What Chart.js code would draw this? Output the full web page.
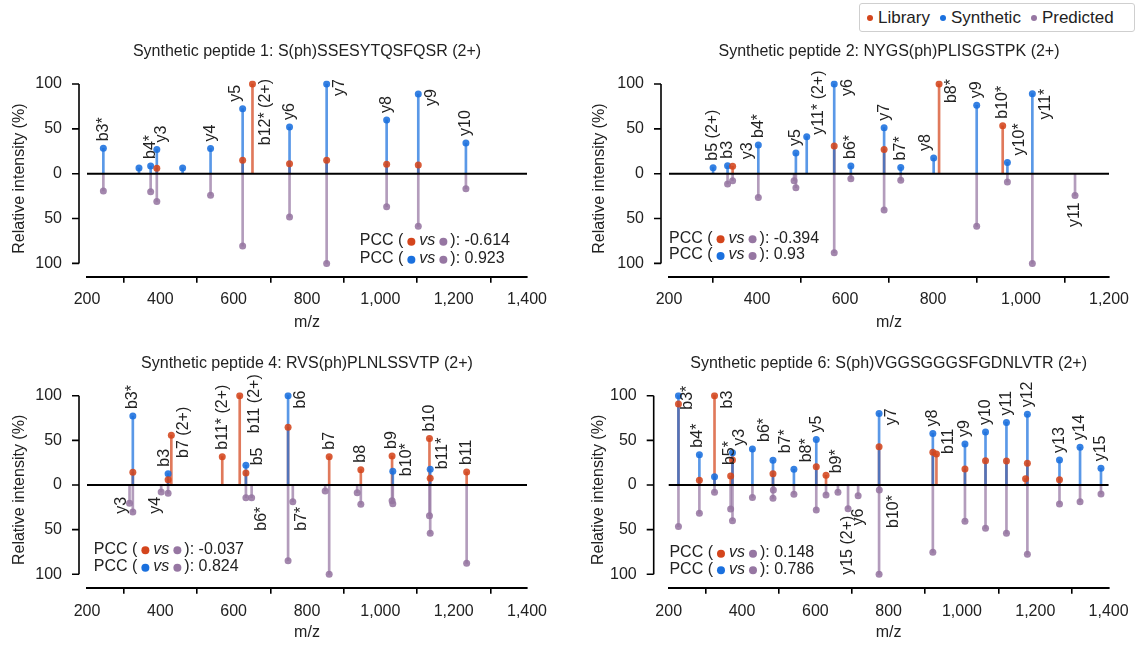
<!DOCTYPE html>
<html>
<head>
<meta charset="utf-8">
<script src="https://cdn.jsdelivr.net/npm/chart.js@4.4.1/dist/chart.umd.min.js"></script>
<style>
html, body { margin: 0; padding: 0; background: #fff; }
body { width: 1137px; height: 645px; position: relative; overflow: hidden; font-family: "Liberation Sans", Arial, sans-serif; color: #222; }
canvas { position: absolute; }
#legend { position: absolute; left: 859px; top: 3px; width: 267px; height: 27px; border: 1px solid #cfcfcf; border-radius: 3px;
  display: flex; align-items: center; padding-left: 7px; box-sizing: content-box; font-size: 17px; }
#legend span { display: inline-flex; align-items: center; margin-right: 10px; }
#legend i { display: inline-block; width: 6px; height: 6px; border-radius: 50%; margin-right: 5px; }
</style>
</head>
<body>
<div id="legend">
  <span><i style="background:#d4451c"></i>Library</span>
  <span><i style="background:#1a70de"></i>Synthetic</span>
  <span><i style="background:#9676a2"></i>Predicted</span>
</div>
<canvas id="p1"></canvas>
<canvas id="p2"></canvas>
<canvas id="p3"></canvas>
<canvas id="p4"></canvas>
<script>
// ---- data ----
const yTickValues = [-100, -50, 0, 50, 100];

const p1Title = 'Synthetic peptide 1: S(ph)SSESYTQSFQSR (2+)';
const p1Mz        = [244.6, 341.8, 373.6, 390.4, 460.8, 537.0, 624.5, 651.3, 752.4, 853.6, 1017.2, 1103.5, 1233.4];
const p1Library   = [0, 0, 0, 6, 0, 0, 15, 100, 11, 15, 10.4, 9.7, 0];
const p1Synthetic = [28.3, 6.3, 8.6, 27, 6.3, 28, 72.5, 0, 52, 100, 60, 88.8, 34.2];
const p1Predicted = [19.3, 0, 20, 31, 0, 24, 80.7, 0, 48.3, 100, 36.8, 58.7, 16.7];
const p1Ions      = ['b3*', '', 'b4*', 'y3', '', 'y4', 'y5', 'b12* (2+)', 'y6', 'y7', 'y8', 'y9', 'y10'];
const p1Pcc = ['-0.614', '0.923'];

const p2Title = 'Synthetic peptide 2: NYGS(ph)PLISGSTPK (2+)';
const p2Mz        = [300.2, 333.1, 344.6, 403.0, 484.3, 488.4, 513.0, 575.5, 613.3, 688.9, 726.7, 801.5, 813.8, 899.3, 958.4, 969.1, 1025.8, 1122.8];
const p2Library   = [0, 0, 8.2, 0, 0, 0, 0, 30.9, 0, 27.1, 0, 0, 100, 0, 53.5, 0, 0, 0];
const p2Synthetic = [6.7, 8.9, 0, 32, 0, 23, 41.3, 100, 8.6, 51.3, 7, 17.5, 0, 76.2, 0, 12.6, 89.2, 0];
const p2Predicted = [0, 11.5, 7.8, 26.4, 7.8, 15.6, 0, 88, 5.6, 40.5, 7.4, 0, 0, 58.7, 0, 9.3, 100, 24.2];
const p2Ions      = ['b5 (2+)', 'b3', 'y3', 'b4*', '', 'y5', 'y11* (2+)', 'y6', 'b6*', 'y7', 'b7*', 'y8', 'b8*', 'y9', 'b10*', 'y10*', 'y11*', 'y11'];
const p2Pcc = ['-0.394', '0.93'];

const p3Title = 'Synthetic peptide 4: RVS(ph)PLNLSSVTP (2+)';
const p3Mz        = [316, 325, 402.3, 421.2, 430, 568.9, 616.5, 633.4, 649, 748.4, 761.3, 849.6, 860.5, 936.9, 946.8, 1032, 1034, 1134, 1136, 1235.4];
const p3Library   = [0, 14.2, 0, 6, 55.6, 31.7, 100, 13.4, 0, 64.6, 0, 0, 31.7, 0, 17.2, 32.5, 0, 52.2, 7.5, 14.5];
const p3Synthetic = [0, 77.2, 0, 12.7, 0, 0, 0, 22, 0, 100, 0, 0, 0, 0, 0, 0, 15.5, 0, 17.6, 0];
const p3Predicted = [20.5, 30.2, 7.8, 9.3, 0, 0, 0, 14.2, 14.2, 84.7, 18.7, 6.7, 100, 8.6, 21.6, 17.5, 21, 34.3, 54.1, 87.7];
const p3Ions      = ['y3', 'b3*', 'y4', 'b3', 'b7 (2+)', 'b11* (2+)', 'b11 (2+)', 'b5', 'b6*', 'b6', 'b7*', '', 'b7', '', 'b8', 'b9', 'b10*', 'b10', 'b11*', 'b11'];
const p3Pcc = ['-0.037', '0.824'];

const p4Title = 'Synthetic peptide 6: S(ph)VGGSGGGSFGDNLVTR (2+)';
const p4Mz        = [226.6, 283.7, 325, 369, 374, 428.4, 484.5, 485.5, 541.6, 602.6, 629.2, 661.7, 689.3, 716.8, 773.9, 774.5, 920.6, 930.4, 1008.2, 1064.3, 1121.4, 1173.6, 1178.5, 1266.1, 1322.2, 1379.3];
const p4Library   = [90.7, 5.2, 100, 10, 28, 0, 12.7, 0, 0, 20.5, 10.8, 0, 0, 0, 42.9, 0, 36.6, 34.7, 17.9, 27.2, 26.9, 7.1, 24.3, 6, 0, 0];
const p4Synthetic = [100, 34, 9.3, 0, 36, 40.3, 27.6, 0, 17.5, 51, 0, 0, 0, 0, 80.2, 0, 57.8, 0, 45.9, 59.3, 70.1, 0, 79.1, 28, 42.2, 18.7];
const p4Predicted = [46.6, 31.7, 8.2, 27, 40, 14, 14.9, 5.6, 10.4, 28, 11.2, 8.2, 26.5, 11.9, 100, 5.6, 75.4, 0, 40.7, 48.5, 54.1, 0, 77.6, 21.3, 18.7, 10.1];
const p4Ions      = ['b3*', 'b4*', 'b3', 'b5*', 'y3', 'b6*', 'b7*', '', 'b8*', 'y5', 'b9*', '', 'y15 (2+)', 'y6', 'y7', 'b10*', 'y8', 'b11', 'y9', 'y10', 'y11', '', 'y12', 'y13', 'y14', 'y15'];
const p4Pcc = ['0.148', '0.786'];

// ---- styling ----
const FONT = '"Liberation Sans", Arial, sans-serif';
const TEXT = '#222';
const RED = '212, 69, 28', BLUE = '26, 112, 222', PURPLE = '150, 118, 162';
const rgba = (c, a) => `rgba(${c}, ${a})`;
const Y_MIN = -115, Y_MAX = 104;

Chart.defaults.font.family = FONT;
Chart.defaults.font.size = 16;
Chart.defaults.color = TEXT;

// label placement: [mode, dx, dy]; u = above going up, r = hanging at right, d = below, c = centred on the dot
const DEF = { u: [0, -7], r: [13, -5], d: [0, 7], c: [12, 0] };
const p1Place = { 'y3': ['u', 5], 'y5': ['u', -7], 'b12* (2+)': ['r'], 'y7': ['r'], 'y9': ['r'] };
const p2Place = { 'y3': ['u', 15], 'y11* (2+)': ['u', 12, -2], 'y6': ['r'], 'y8': ['u', -8], 'b8*': ['r'], 'y10*': ['u', 12], 'y11*': ['r'] };
const p3Place = { 'y3': ['c', -8, 2], 'y4': ['d', -6, 5], 'b3': ['u', -4], 'b7 (2+)': ['c', 12, -3], 'b11 (2+)': ['c', 15, 8],
  'b5': ['u', 12, 0], 'b6*': ['d', 10, 9], 'b6': ['r'], 'b7*': ['d', 9, 5], 'b10*': ['u', 14, 5], 'b11*': ['u', 12, 0] };
const p4Place = { 'b3*': ['r', 9, -10], 'b4*': ['u', -2], 'b3': ['r'], 'b5*': ['u', -1, -11], 'y3': ['u', 7], 'b6*': ['u', 12],
  'b7*': ['u', 13], 'b8*': ['u', 13], 'b9*': ['u', 11, -2], 'y6': ['d', 0, 13], 'y7': ['r'], 'b10*': ['d', 14, 5], 'b11': ['u', 12, 0] };

function drawDot(ctx, x, y, color) {
    ctx.beginPath();
    ctx.arc(x, y, 4, 0, Math.PI * 2);
    ctx.fillStyle = color;
    ctx.fill();
}

function drawPcc(ctx, x0, y0, color, value) {
    ctx.textAlign = 'left';
    ctx.textBaseline = 'middle';
    ctx.fillStyle = TEXT;
    ctx.font = '16px ' + FONT;
    let cx = x0;
    ctx.fillText('PCC (', cx, y0);
    cx += ctx.measureText('PCC (').width + 4;
    drawDot(ctx, cx + 4, y0 + 1, color);
    cx += 8 + 4;
    ctx.font = 'italic 16px ' + FONT;
    ctx.fillStyle = TEXT;
    ctx.fillText('vs', cx, y0);
    cx += ctx.measureText('vs').width + 4;
    drawDot(ctx, cx + 4, y0 + 1, rgba(PURPLE, 1));
    cx += 8 + 3;
    ctx.font = '16px ' + FONT;
    ctx.fillStyle = TEXT;
    ctx.fillText('): ' + value, cx, y0);
}

const spectrumDecor = {
    id: 'spectrumDecor',
    afterDatasetsDraw(chart, args, opts) {
        const { ctx, chartArea, scales: { x, y } } = chart;
        ctx.save();
        // zero line
        const y0 = y.getPixelForValue(0);
        ctx.strokeStyle = '#000';
        ctx.lineWidth = 2;
        ctx.beginPath();
        ctx.moveTo(chartArea.left, y0);
        ctx.lineTo(chartArea.right, y0);
        ctx.stroke();
        // detached y axis
        const ax = chartArea.left - opts.gap;
        ctx.lineWidth = 1.6;
        ctx.beginPath();
        ctx.moveTo(ax, y.getPixelForValue(100));
        ctx.lineTo(ax, y.getPixelForValue(-100));
        yTickValues.forEach(v => {
            const py = y.getPixelForValue(v);
            ctx.moveTo(ax - 7, py);
            ctx.lineTo(ax, py);
        });
        ctx.stroke();

        // ion labels
        ctx.font = '16px ' + FONT;
        ctx.fillStyle = TEXT;
        ctx.textBaseline = 'middle';
        opts.ions.forEach((ion, i) => {
            if (!ion) return;
            const up = Math.max(opts.lib[i], opts.syn[i]);
            const v = up > 0 ? up : -opts.pred[i];
            const p = opts.place[ion] || [v > 0 ? 'u' : 'd'];
            const mode = p[0];
            const dx = p[1] !== undefined ? p[1] : DEF[mode][0];
            const dy = p[2] !== undefined ? p[2] : DEF[mode][1];
            ctx.save();
            ctx.translate(x.getPixelForValue(opts.mz[i]) + dx, y.getPixelForValue(v) + dy);
            ctx.rotate(-Math.PI / 2);
            ctx.textAlign = mode === 'u' ? 'left' : mode === 'c' ? 'center' : 'right';
            ctx.fillText(ion, 0, 0);
            ctx.restore();
        });

        // PCC notes
        const px = x.getPixelForValue(opts.pccAt[0]);
        drawPcc(ctx, px, y.getPixelForValue(opts.pccAt[1]), rgba(RED, 1), opts.pcc[0]);
        drawPcc(ctx, px, y.getPixelForValue(opts.pccAt[2]), rgba(BLUE, 1), opts.pcc[1]);
        ctx.restore();
    }
};

function makePanel(id, geo, title, mz, lib, syn, pred, ions, pcc, place) {
    const cv = document.getElementById(id);
    cv.width = geo.w;
    cv.height = geo.h;
    cv.style.left = geo.x + 'px';
    cv.style.top = geo.y + 'px';

    const left = geo.areaL - geo.x;
    const right = geo.areaR - geo.x;
    const unit = (geo.y0 - geo.y100) / 100;
    const top = geo.y100 - geo.y - (Y_MAX - 100) * unit;
    const bottom = geo.y0 - geo.y - Y_MIN * unit;
    const titlePadTop = geo.titleY - geo.y - 9.6;

    const pts = (vals, sign) => mz.map((m, i) => ({ x: m, y: sign * vals[i] })).filter(p => p.y !== 0);
    const stem = (vals, sign, c) => ({
        type: 'bar', data: pts(vals, sign), backgroundColor: rgba(c, 0.72), borderWidth: 0,
        barThickness: 2, grouped: false, order: 2
    });
    const dots = (vals, sign, c) => ({
        type: 'scatter', data: pts(vals, sign), backgroundColor: rgba(c, 0.88), borderWidth: 0,
        pointRadius: 3.5, pointHoverRadius: 3.5, order: 1
    });

    new Chart(cv, {
        type: 'bar',
        data: {
            datasets: [
                dots(lib, 1, RED), dots(syn, 1, BLUE), dots(pred, -1, PURPLE),
                stem(syn, 1, BLUE), stem(lib, 1, RED), stem(pred, -1, PURPLE)
            ]
        },
        options: {
            responsive: false,
            animation: false,
            events: [],
            layout: { padding: { left: 0, right: geo.w - right, top: 0, bottom: 0 } },
            plugins: {
                legend: { display: false },
                tooltip: { enabled: false },
                title: {
                    display: true, text: title, fullSize: false, color: TEXT,
                    font: { size: 16, weight: 'normal' },
                    padding: { top: titlePadTop, bottom: top - titlePadTop - 19.2 }
                },
                spectrumDecor: { gap: geo.gap, mz, lib, syn, pred, ions, place, pcc, pccAt: geo.pccAt }
            },
            scales: {
                x: {
                    type: 'linear', min: 200, max: geo.xMax, offset: false,
                    afterFit: s => { s.height = geo.h - bottom; },
                    ticks: {
                        stepSize: 200, autoSkip: false, maxRotation: 0, padding: geo.tickY - geo.y - bottom - 15.6,
                        color: TEXT, font: { size: 16 },
                        callback: v => v.toLocaleString('en-US')
                    },
                    grid: { display: true, drawOnChartArea: false, drawTicks: true, tickLength: 6, color: '#000', lineWidth: 1.6 },
                    border: { display: true, color: '#000', width: 2 },
                    title: { display: true, text: 'm/z', color: TEXT, font: { size: 16 },
                        padding: { top: 0, bottom: geo.y + geo.h - geo.mzY - 9.6 } }
                },
                y: {
                    type: 'linear', min: Y_MIN, max: Y_MAX,
                    afterBuildTicks: s => { s.ticks = yTickValues.map(v => ({ value: v })); },
                    afterFit: s => { s.width = left; },
                    ticks: { padding: geo.gap + 9, color: TEXT, font: { size: 16 }, callback: v => String(Math.abs(v)) },
                    grid: { display: false },
                    border: { display: false },
                    title: { display: true, text: 'Relative intensity (%)', color: TEXT, font: { size: 16 },
                        padding: { top: geo.yTitleX - geo.x - 9.6, bottom: 0 } }
                }
            }
        },
        plugins: [spectrumDecor]
    });
}

makePanel('p1', { x: 0, y: 30, w: 570, h: 305, areaL: 87, areaR: 527, y100: 84, y0: 173.7, xMax: 1400, gap: 8,
    titleY: 51.7, tickY: 300, mzY: 323, yTitleX: 20, pccAt: [944, -74.7, -94.8] },
    p1Title, p1Mz, p1Library, p1Synthetic, p1Predicted, p1Ions, p1Pcc, p1Place);
makePanel('p2', { x: 570, y: 30, w: 567, h: 305, areaL: 669, areaR: 1109, y100: 84, y0: 173.7, xMax: 1200, gap: 8,
    titleY: 51.7, tickY: 300, mzY: 323, yTitleX: 600, pccAt: [200, -72, -90.6] },
    p2Title, p2Mz, p2Library, p2Synthetic, p2Predicted, p2Ions, p2Pcc, p2Place);
makePanel('p3', { x: 0, y: 340, w: 570, h: 305, areaL: 87, areaR: 527, y100: 395.7, y0: 485, xMax: 1400, gap: 8,
    titleY: 363.3, tickY: 611.7, mzY: 633, yTitleX: 20, pccAt: [218.6, -72, -91.5] },
    p3Title, p3Mz, p3Library, p3Synthetic, p3Predicted, p3Ions, p3Pcc, p3Place);
makePanel('p4', { x: 570, y: 340, w: 567, h: 305, areaL: 668.7, areaR: 1109, y100: 395.7, y0: 485, xMax: 1400, gap: 15,
    titleY: 363.3, tickY: 611.7, mzY: 633, yTitleX: 599, pccAt: [202, -75.8, -94.4] },
    p4Title, p4Mz, p4Library, p4Synthetic, p4Predicted, p4Ions, p4Pcc, p4Place);
</script>
</body>
</html>
